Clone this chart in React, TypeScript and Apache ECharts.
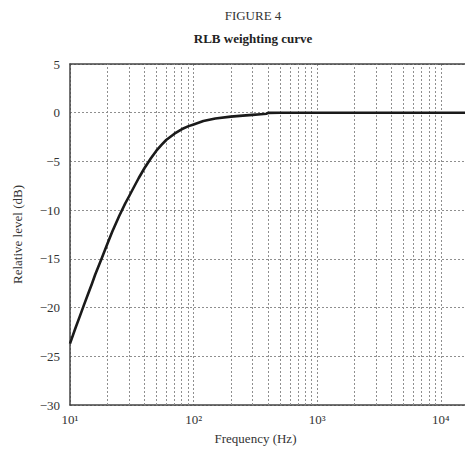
import React, { useEffect, useRef } from "react";
import * as echarts from "echarts";

const frequencies = [10, 11, 12, 13, 14, 15, 16, 18, 20, 22, 25, 28, 30, 33, 36, 40, 45, 50, 55, 60, 70, 80, 90, 100, 120, 150, 200, 250, 300, 350, 390, 400, 500, 1000, 2000, 5000, 10000, 15700];
const levels = [-23.7, -22.2, -20.9, -19.7, -18.6, -17.6, -16.6, -15.0, -13.5, -12.2, -10.6, -9.3, -8.6, -7.6, -6.7, -5.7, -4.7, -3.9, -3.3, -2.8, -2.15, -1.7, -1.4, -1.2, -0.85, -0.6, -0.4, -0.3, -0.22, -0.15, -0.1, -0.02, 0, 0, 0, 0, 0, 0];
const minorGridFreqs = [20, 30, 40, 50, 60, 70, 80, 90, 200, 300, 400, 500, 600, 700, 800, 900, 2000, 3000, 4000, 5000, 6000, 7000, 8000, 9000];
const superscripts: Record<string, string> = { "1": "¹", "2": "²", "3": "³", "4": "⁴" };
const yTicks = [5, 0, -5, -10, -15, -20, -25, -30];
const X_MIN = 10;
const X_MAX = 15700;

const FONT = "'Liberation Serif', 'DejaVu Serif', serif";

export default function App() {
  const ref = useRef<HTMLDivElement>(null);
  useEffect(() => {
    if (!ref.current) return;
    const chart = echarts.init(ref.current, undefined, { renderer: "svg" });
    const gridStyle = { color: "#8f8f8f", width: 1, type: [2, 2] as number[] };
    chart.setOption({
      animation: false,
      backgroundColor: "#ffffff",
      title: [
        {
          text: "FIGURE 4",
          left: 248,
          top: 4,
          textAlign: "center",
          textStyle: { fontFamily: FONT, fontSize: 13, fontWeight: "normal", color: "#333" },
        },
        {
          text: "RLB weighting curve",
          left: 248,
          top: 27,
          textAlign: "center",
          textStyle: { fontFamily: FONT, fontSize: 13, fontWeight: "bold", color: "#222" },
        },
      ],
      grid: { left: 70, top: 64, bottom: 45, right: 0, containLabel: false },
      xAxis: [
        {
          type: "log",
          logBase: 10,
          min: X_MIN,
          max: X_MAX,
          name: "Frequency (Hz)",
          nameLocation: "middle",
          nameGap: 27,
          nameTextStyle: { fontFamily: FONT, fontSize: 13, color: "#333", padding: [0, 24, 0, 0] },
          axisLine: { show: true, onZero: false, lineStyle: { color: "#444", width: 1.5 } },
          axisTick: { show: false },
          axisLabel: {
            fontFamily: FONT,
            fontSize: 13,
            color: "#333",
            margin: 8,
            showMaxLabel: false,
            formatter: (v: number) => {
              const e = Math.round(Math.log10(v));
              if (Math.abs(Math.pow(10, e) - v) > 1e-6 || e > 4) return "";
              return "10" + (superscripts[String(e)] || "");
            },
          },
          splitLine: { show: true, lineStyle: gridStyle },
        },
        {
          type: "log",
          logBase: 10,
          min: X_MIN,
          max: X_MAX,
          position: "top",
          axisLine: { show: true, onZero: false, lineStyle: { color: "#444", width: 1.5 } },
          axisTick: { show: false },
          axisLabel: { show: false },
          splitLine: { show: false },
        },
      ],
      yAxis: {
        type: "value",
        min: -30,
        max: 5,
        interval: 5,
        name: "Relative level (dB)",
        nameLocation: "middle",
        nameGap: 46,
        nameRotate: 90,
        nameTextStyle: { fontFamily: FONT, fontSize: 13, color: "#333" },
        axisLine: { show: true, lineStyle: { color: "#444", width: 1.5 } },
        axisTick: { show: false },
        axisLabel: {
          fontFamily: FONT,
          fontSize: 13,
          color: "#333",
          margin: 10,
          formatter: (v: number) => (yTicks.includes(v) ? (v < 0 ? "\u2212" + Math.abs(v) : String(v)) : ""),
        },
        splitLine: { show: true, lineStyle: gridStyle },
      },
      series: [
        {
          type: "line",
          data: frequencies.map((f, i) => [f, levels[i]]),
          showSymbol: false,
          smooth: false,
          lineStyle: { color: "#1a1a1a", width: 2.6, join: "round" },
          silent: true,
          markLine: {
            silent: true,
            symbol: "none",
            label: { show: false },
            lineStyle: gridStyle,
            data: minorGridFreqs.map((f) => ({ xAxis: f })),
          },
          z: 5,
        },
      ],
    });
    return () => chart.dispose();
  }, []);
  return (
    <div
      ref={ref}
      style={{ position: "fixed", left: 0, top: 0, width: 465, height: 450, background: "#fff" }}
    />
  );
}
